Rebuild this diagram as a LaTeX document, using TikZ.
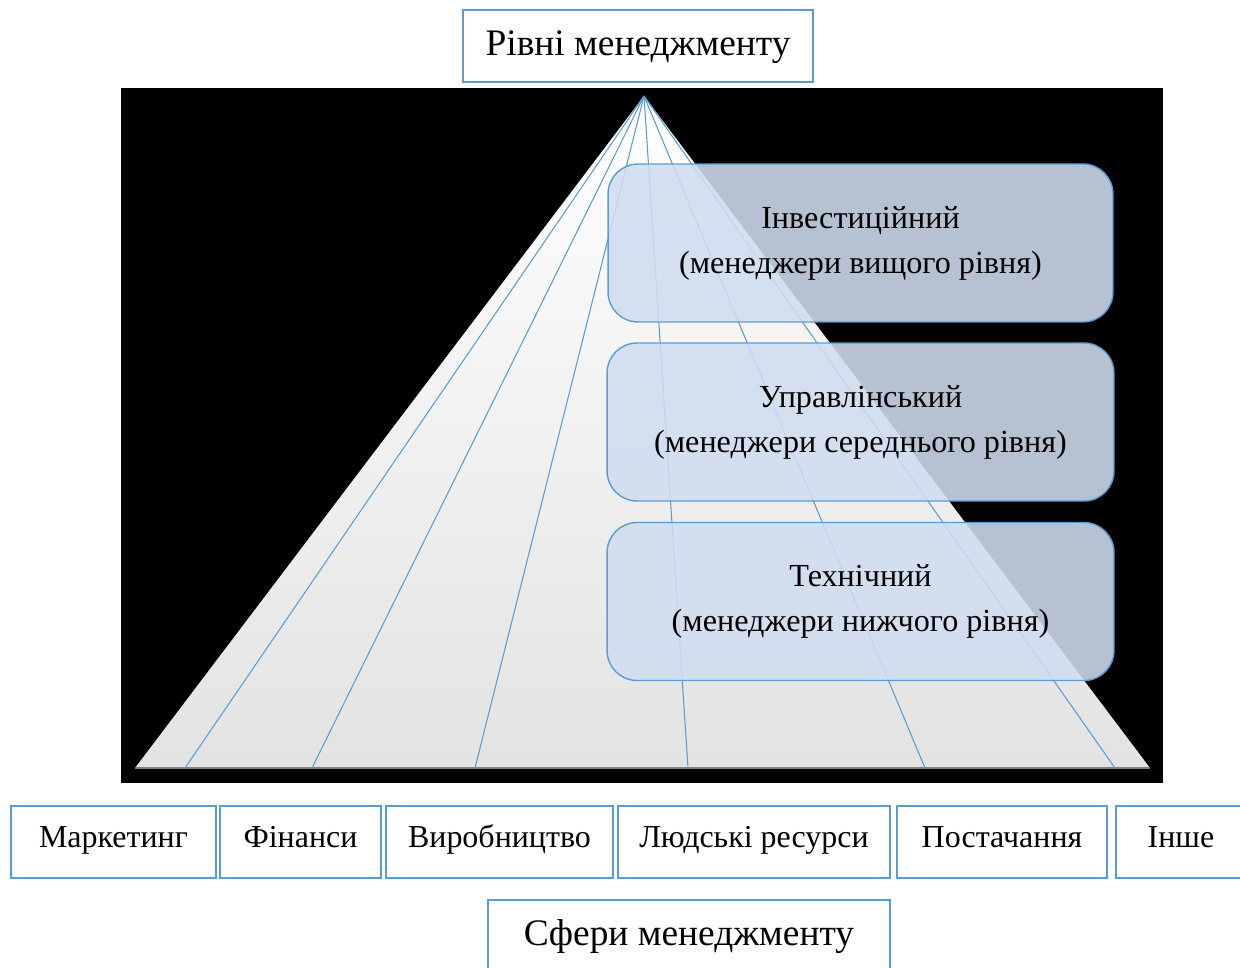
\documentclass[tikz,border=0pt]{standalone}
\usepackage{fontspec}
\setmainfont{Liberation Serif}
\begin{document}
\begin{tikzpicture}[x=0.02cm, y=-0.02cm]

			% Styles
			\definecolor{msblue}{RGB}{91,155,213}
			\definecolor{levelfill}{RGB}{208,221,240}
			\tikzset{
				titlebox/.style={
					rectangle, draw=msblue, line width=1.5pt, fill=white,
					minimum height=1.44cm, inner sep=0pt,
					text height=0.55cm, text depth=0.19cm,
					font=\fontsize{21.3}{25}\selectfont,
				},
				sphere/.style={
					titlebox, minimum width=#1,
					text height=0.45cm, text depth=0.25cm,
					font=\fontsize{18.2}{22}\selectfont,
				},
				level/.style={
					rectangle, rounded corners=0.6cm, draw=msblue, line width=0.8pt,
					fill=levelfill, fill opacity=0.88, text opacity=1,
					minimum width=10.1cm, minimum height=3.16cm,
					align=center, font=\fontsize{18.3}{25.6}\selectfont,
				},
				ray/.style={
					draw=msblue, line width=0.6pt,
				}
			}

			\clip (0,0) rectangle (1240,967);

			% Title
			\node[titlebox, minimum width=7cm] (levels) at (638,46) {Рівні менеджменту};

			% Black background and pyramid
			\fill[black] (121,88) rectangle (1163,783);
			\coordinate (apex) at (644,96);
			\coordinate (left) at (135,768);
			\coordinate (right) at (1150,768);
			\shade[top color=white, bottom color=gray!22] (apex) -- (left) -- (right) -- cycle;
			\draw[gray, line width=0.8pt] (left) -- (right);

			% Rays from the apex
			\foreach \bx in {185,312,475,688,925,1115}
				\draw[ray] (apex) -- (\bx,768);

			% Levels
			\node[level] (invest) at (860.5,243) {Інвестиційний\\(менеджери вищого рівня)};
			\node[level, minimum width=10.14cm] (manage) at (860.5,422) {Управлінський\\(менеджери середнього рівня)};
			\node[level, minimum width=10.14cm] (tech) at (860.5,601.5) {Технічний\\(менеджери нижчого рівня)};

			% Spheres
			\node[sphere=4.1cm] (marketing) at (113.5,842) {Маркетинг};
			\node[sphere=3.22cm] (finance) at (300.5,842) {Фінанси};
			\node[sphere=4.54cm] (production) at (499.5,842) {Виробництво};
			\node[sphere=5.44cm] (people) at (754,842) {Людські ресурси};
			\node[sphere=4.2cm] (supply) at (1002,842) {Постачання};
			\node[sphere=2.6cm] (other) at (1181,842) {Інше};

			% Bottom title
			\node[titlebox, minimum width=8.04cm] (spheres) at (689,936) {Сфери менеджменту};

\end{tikzpicture}
\end{document}
